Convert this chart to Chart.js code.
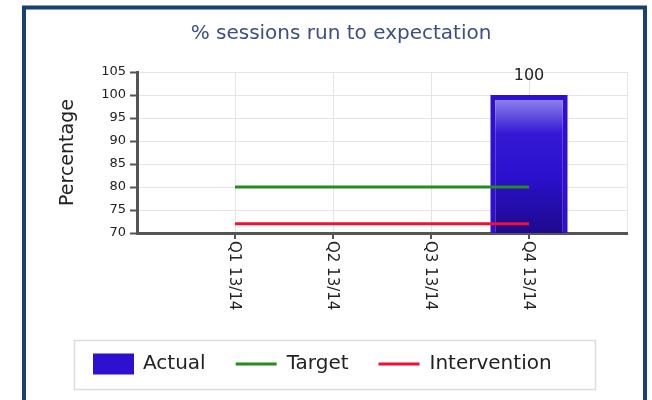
<!DOCTYPE html>
<html>
<head>
<meta charset="utf-8">
<script src="https://cdn.jsdelivr.net/npm/chart.js@4/dist/chart.umd.min.js"></script>
<style>
  html, body { margin: 0; padding: 0; background: #ffffff; }
  #wrap { width: 652px; height: 400px; position: relative; }
</style>
</head>
<body>
<div id="wrap"><canvas id="c" width="652" height="400"></canvas></div>
<script>
// ---- data ----
const categories = ['Q1 13/14', 'Q2 13/14', 'Q3 13/14', 'Q4 13/14'];
const actualValues = [null, null, null, 100];
const targetValues = [80, 80, 80, 80];
const interventionValues = [72, 72, 72, 72];
const yTicks = [70, 75, 80, 85, 90, 95, 100, 105];
const chartTitle = '% sessions run to expectation';
const yTitle = 'Percentage';

// padded category axis (empty slot at each end)
const labels = [''].concat(categories, ['']);
const pad = arr => [null].concat(arr, [null]);

const FONT = "'DejaVu Sans', Verdana, sans-serif";

const framePlugin = {
  id: 'frame',
  beforeDraw(chart) {
    const ctx = chart.ctx;
    ctx.save();
    ctx.fillStyle = '#ffffff';
    ctx.fillRect(0, 0, chart.width, chart.height);
    ctx.strokeStyle = '#1b3f70';
    ctx.lineWidth = 4;
    ctx.strokeRect(24, 7.5, 621, 420);
    ctx.restore();
  }
};

const xLabelPlugin = {
  id: 'xLabels',
  afterDraw(chart) {
    const ctx = chart.ctx;
    const xs = chart.scales.x;
    ctx.save();
    // small tick marks below the axis at each category
    ctx.strokeStyle = '#555555';
    ctx.lineWidth = 2;
    labels.forEach((lab, i) => {
      if (!lab) return;
      const x = xs.getPixelForTick(i);
      ctx.beginPath();
      ctx.moveTo(x, xs.top + 1);
      ctx.lineTo(x, xs.top + 6);
      ctx.stroke();
    });
    ctx.font = '15px ' + FONT;
    ctx.fillStyle = '#222222';
    ctx.textAlign = 'left';
    ctx.textBaseline = 'middle';
    labels.forEach((lab, i) => {
      if (!lab) return;
      const x = xs.getPixelForTick(i);
      ctx.save();
      ctx.translate(x - 1, xs.top + 8);
      ctx.rotate(Math.PI / 2);
      ctx.fillText(lab, 0, 0);
      ctx.restore();
    });
    ctx.restore();
  }
};

const valueLabelPlugin = {
  id: 'valueLabels',
  afterDatasetsDraw(chart) {
    const ctx = chart.ctx;
    chart.data.datasets.forEach((ds, di) => {
      if (ds.type !== 'bar') return;
      const meta = chart.getDatasetMeta(di);
      meta.data.forEach((el, i) => {
        const v = ds.data[i];
        if (v === null || v === undefined) return;
        ctx.save();
        ctx.font = '16px ' + FONT;
        ctx.fillStyle = '#222222';
        ctx.textAlign = 'center';
        ctx.textBaseline = 'alphabetic';
        ctx.fillText(String(v), el.x, el.y - 15);
        ctx.restore();
      });
    });
  }
};

const legendPlugin = {
  id: 'boxLegend',
  afterDraw(chart) {
    const ctx = chart.ctx;
    ctx.save();
    ctx.strokeStyle = '#dcdcdc';
    ctx.lineWidth = 1.5;
    ctx.strokeRect(74.5, 340.5, 521, 49);
    ctx.font = '20px ' + FONT;
    ctx.textBaseline = 'middle';
    ctx.textAlign = 'left';
    const cy = 364;
    let x = 93;
    chart.data.datasets.slice().sort((a, b) => a.legendOrder - b.legendOrder).forEach(ds => {
      if (ds.type === 'bar') {
        ctx.fillStyle = ds.legendColor;
        ctx.fillRect(x, cy - 10.5, 41, 21);
        x += 41 + 9;
      } else {
        ctx.strokeStyle = ds.borderColor;
        ctx.lineWidth = 3;
        ctx.beginPath();
        ctx.moveTo(x, cy);
        ctx.lineTo(x + 41, cy);
        ctx.stroke();
        x += 41 + 10;
      }
      ctx.fillStyle = '#222222';
      ctx.fillText(ds.label, x, cy);
      x += ctx.measureText(ds.label).width + 30;
    });
    ctx.restore();
  }
};

function barGradient(context) {
  const chart = context.chart;
  const ys = chart.scales.y;
  if (!chart.chartArea || !ys || context.raw == null) return '#2a10cc';
  const top = ys.getPixelForValue(context.raw);
  const bottom = ys.getPixelForValue(ys.min);
  const g = chart.ctx.createLinearGradient(0, top, 0, bottom);
  g.addColorStop(0, '#9a8ef0');
  g.addColorStop(0.28, '#3418d4');
  g.addColorStop(0.6, '#2a10cc');
  g.addColorStop(1, '#1e0a8c');
  return g;
}

new Chart(document.getElementById('c'), {
  data: {
    labels: labels,
    datasets: [
      {
        type: 'line',
        label: 'Target',
        data: pad(targetValues),
        borderColor: '#2a8a22',
        borderWidth: 3,
        pointRadius: 0,
        fill: false,
        order: 0,
        legendOrder: 1
      },
      {
        type: 'line',
        label: 'Intervention',
        data: pad(interventionValues),
        borderColor: '#ee1133',
        borderWidth: 3,
        pointRadius: 0,
        fill: false,
        order: 0,
        legendOrder: 2
      },
      {
        type: 'bar',
        label: 'Actual',
        data: pad(actualValues),
        backgroundColor: barGradient,
        borderColor: '#3010d0',
        borderWidth: 5,
        borderSkipped: false,
        barPercentage: 0.79,
        categoryPercentage: 1,
        order: 1,
        legendOrder: 0,
        legendColor: '#2e10d0'
      }
    ]
  },
  options: {
    responsive: false,
    animation: false,
    devicePixelRatio: 1,
    layout: { padding: { top: 0, left: 55, right: 25, bottom: 0 } },
    plugins: {
      legend: { display: false },
      tooltip: { enabled: false },
      title: {
        display: true,
        text: chartTitle,
        color: '#3b4f86',
        font: { family: FONT, size: 20, weight: 'normal' },
        padding: { top: 22, bottom: 26 }
      }
    },
    scales: {
      x: {
        type: 'category',
        offset: false,
        grid: {
          offset: false,
          color: '#e4e4e4',
          lineWidth: 1,
          drawTicks: false
        },
        border: { display: true, color: '#555555', width: 3 },
        ticks: { display: false },
        afterFit(scale) { scale.height = 167; }
      },
      y: {
        type: 'linear',
        min: yTicks[0],
        max: yTicks[yTicks.length - 1],
        afterBuildTicks(scale) { scale.ticks = yTicks.map(v => ({ value: v })); },
        grid: {
          color: '#e4e4e4',
          lineWidth: 1,
          drawTicks: true,
          tickLength: 7,
          tickColor: '#555555',
          tickWidth: 2
        },
        border: { display: true, color: '#555555', width: 3 },
        ticks: {
          font: { family: FONT, size: 13 },
          color: '#222222',
          padding: 4
        },
        title: {
          display: true,
          text: yTitle,
          color: '#222222',
          font: { family: FONT, size: 19 },
          padding: { top: 2, bottom: 4 }
        },
        afterFit(scale) { scale.width = 82; }
      }
    }
  },
  plugins: [framePlugin, xLabelPlugin, valueLabelPlugin, legendPlugin]
});
</script>
</body>
</html>
